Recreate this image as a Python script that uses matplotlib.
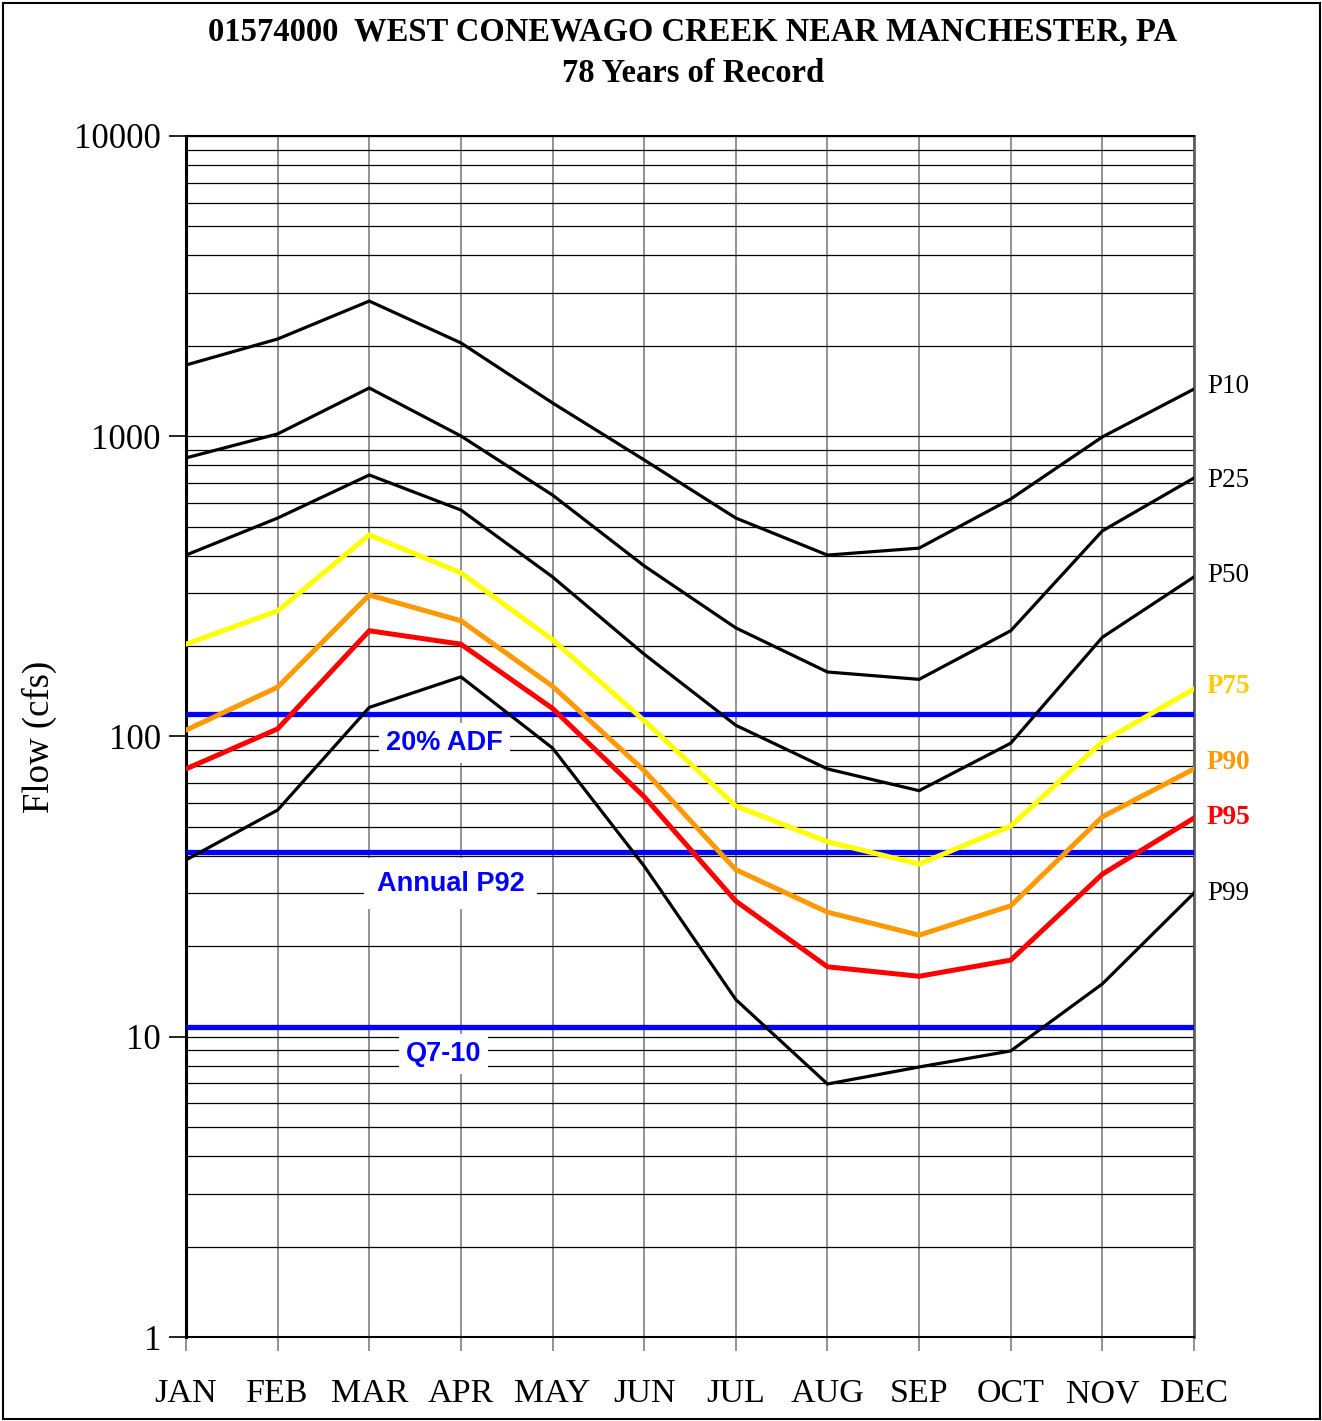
import matplotlib
matplotlib.use("Agg")
import matplotlib.pyplot as plt
from matplotlib.patches import Rectangle
from matplotlib.ticker import LogLocator, NullFormatter, FixedLocator

months = ["JAN", "FEB", "MAR", "APR", "MAY", "JUN", "JUL", "AUG", "SEP", "OCT", "NOV", "DEC"]

p10 = [1727, 2108, 2820, 2046, 1291, 834, 534, 402, 424, 618, 995, 1436]
p25 = [847, 1018, 1448, 1002, 637, 370, 230, 164, 155, 225, 484, 726]
p50 = [402, 534, 743, 568, 340, 188, 109, 78, 66, 95, 214, 340]
p75 = [203, 262, 469, 351, 210, 113, 58.7, 44.6, 37.6, 50.3, 96, 144]
p90 = [105, 146, 296, 243, 147, 77, 36, 26, 21.8, 27.3, 54, 78]
p95 = [78, 106, 225, 203, 124, 63, 28.3, 17.1, 15.9, 18, 34.8, 53.5]
p99 = [38.8, 56.9, 125, 158, 91.5, 37, 13.3, 6.96, 7.93, 8.97, 15, 30.1]

adf20 = 119
annual_p92 = 41.2
q7_10 = 10.8

title = "01574000  WEST CONEWAGO CREEK NEAR MANCHESTER, PA\n78 Years of Record"

serif = ["Liberation Serif", "DejaVu Serif"]
sans = ["Liberation Sans", "DejaVu Sans"]

fig = plt.figure(figsize=(13.22, 14.21), dpi=100)
ax = fig.add_axes([186/1322, 1-1337/1421, (1194-186)/1322, (1337-136)/1421])

x = list(range(12))
ax.set_yscale("log")
ax.set_ylim(1, 10000)
ax.set_xlim(0, 11)

# grid
ax.yaxis.set_minor_locator(LogLocator(base=10, subs=range(2, 10)))
ax.yaxis.set_minor_formatter(NullFormatter())
ax.grid(True, which="both", axis="y", color="black", linewidth=0.9)
ax.xaxis.set_major_locator(FixedLocator(x))
ax.grid(True, which="major", axis="x", color="#808080", linewidth=1.2)
ax.set_axisbelow(True)

ax.set_xticks(x)
ax.set_xticklabels(months, fontfamily=serif, fontsize=24.5)
ax.tick_params(axis="x", which="major", length=10, color="#808080", width=1.2, pad=20, direction="out")
ax.set_yticks([1, 10, 100, 1000, 10000])
ax.set_yticklabels(["1", "10", "100", "1000", "10000"], fontfamily=serif, fontsize=25)
ax.tick_params(axis="y", which="major", length=12, width=1.2, pad=6, direction="out")
ax.tick_params(axis="y", which="minor", length=0)

ax.spines["left"].set_linewidth(2.2)
ax.spines["top"].set_linewidth(1.5)
ax.spines["bottom"].set_linewidth(1.5)
ax.spines["right"].set_color("#606060")
ax.spines["right"].set_linewidth(2)

# reference lines
for v in [adf20, annual_p92, q7_10]:
    ax.plot([0, 11], [v, v], color="#0000FF", linewidth=3.8, solid_capstyle="butt", zorder=3)

# percentile lines
series = [
    (p10, "black", 2.3, "P10", "black", "normal"),
    (p25, "black", 2.3, "P25", "black", "normal"),
    (p50, "black", 2.3, "P50", "black", "normal"),
    (p75, "#FFFF00", 3.6, "P75", "#FFCC00", "bold"),
    (p90, "#FF9900", 3.6, "P90", "#FF9900", "bold"),
    (p95, "#FF0000", 3.6, "P95", "#FF0000", "bold"),
    (p99, "black", 2.3, "P99", "black", "normal"),
]
for vals, col, lw, lab, lcol, wt in series:
    ax.plot(x, vals, color=col, linewidth=lw, zorder=4, solid_joinstyle="miter")

label_y = [1470, 713, 344, 147, 81.7, 53.8, 30]
for (vals, col, lw, lab, lcol, wt), ly in zip(series, label_y):
    ax.text(11.14, ly, lab, color=lcol, fontweight=wt, fontfamily=serif, fontsize=19.5,
            ha="left", va="center", clip_on=False)

# blue labels
box = dict(facecolor="white", edgecolor="none", pad=5)
ax.text(2.82, 95, "20% ADF", color="#0000FF", fontweight="bold", fontfamily=sans, fontsize=19.5,
        ha="center", va="center", bbox=box, zorder=5)
ax.text(2.89, 32.3, "Annual P92", color="#0000FF", fontweight="bold", fontfamily=sans, fontsize=19.5,
        ha="center", va="center", bbox=dict(facecolor="white", edgecolor="none", pad=9), zorder=5)
ax.text(2.81, 8.76, "Q7-10", color="#0000FF", fontweight="bold", fontfamily=sans, fontsize=19.5,
        ha="center", va="center", bbox=box, zorder=5)

ax.set_ylabel("Flow (cfs)", fontfamily=serif, fontsize=26.5, labelpad=12)

fig.text(693/1322, 1-53/1421, title, ha="center", va="center", fontfamily=serif,
         fontweight="bold", fontsize=23.5, linespacing=1.45)

fig.patches.append(Rectangle((3/1322, 2/1421), 1317/1322, 1416/1421, transform=fig.transFigure,
                             fill=False, edgecolor="black", linewidth=1.5))

fig.savefig("out.png", dpi=100)
